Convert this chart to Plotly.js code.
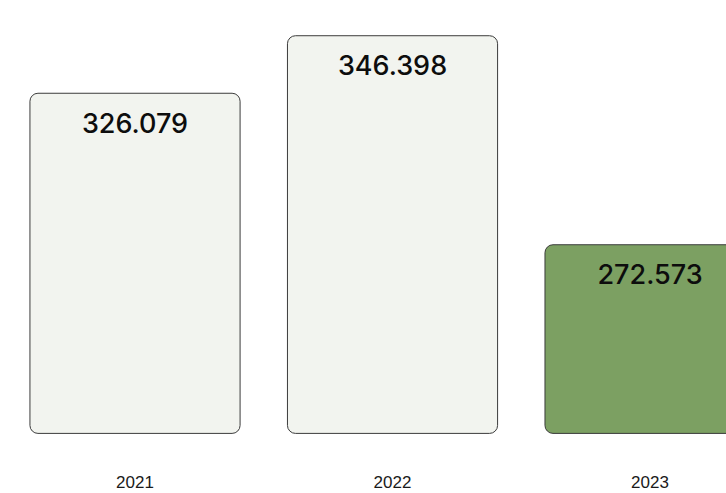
<!DOCTYPE html>
<html>
<head>
<meta charset="utf-8">
<script src="https://cdn.plot.ly/plotly-3.0.1.min.js"></script>
<style>html,body{margin:0;padding:0;background:#fff;}#chart{width:726px;height:493px;}</style>
</head>
<body>
<div id="chart"></div>
<script>
const years = ['2021', '2022', '2023'];
const values = [326.079, 346.398, 272.573];
const valueLabels = ['326.079', '346.398', '272.573'];
const barColors = ['#f2f4ef', '#f2f4ef', '#7ca062'];

const yBottom = 205.72, yTop = 359.02;
const plotH = 434;
const pxPerUnit = plotH / (yTop - yBottom);
const floorV = yBottom + 0.6 / pxPerUnit;
const barW = 0.816;

const bars = {
  type: 'bar', x: years, base: values.map(() => floorV), y: values.map(v => v - floorV),
  width: barW, marker: {color: barColors, line: {color: '#3b3b3b', width: 1}, cornerradius: 8},
  hoverinfo: 'skip', showlegend: false
};

const labelsTrace = {
  type: 'scatter', mode: 'markers+text', x: years, y: values,
  text: valueLabels, textposition: 'bottom center',
  marker: {size: 29, opacity: 0, color: 'rgba(0,0,0,0)'},
  textfont: {family: 'Inter, Liberation Sans, sans-serif', size: 27, weight: 500, color: '#0d0d0d'},
  hoverinfo: 'skip', showlegend: false, cliponaxis: false
};

const layout = {
  width: 726, height: 493,
  margin: {l: 0, r: 0, t: 0, b: 59},
  paper_bgcolor: '#ffffff', plot_bgcolor: '#ffffff',
  xaxis: {
    type: 'category', range: [-0.5243, 2.295],
    showgrid: false, zeroline: false, showline: false, ticks: '',
    ticklabelstandoff: 36,
    tickfont: {family: 'Liberation Sans, Arial, sans-serif', size: 17, color: '#1a1a1a'}
  },
  yaxis: {range: [yBottom, yTop], visible: false, showgrid: false, zeroline: false},
  showlegend: false
};

Plotly.newPlot('chart', [bars, labelsTrace], layout, {displayModeBar: false, staticPlot: true});
</script>
</body>
</html>
